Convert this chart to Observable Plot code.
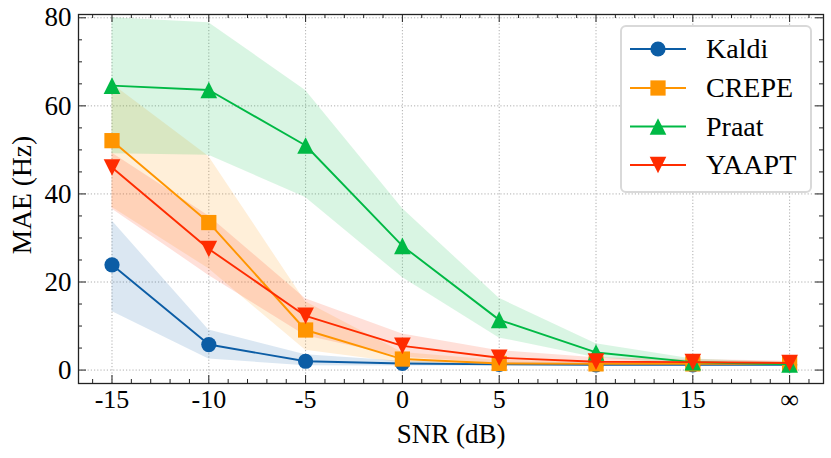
<!DOCTYPE html>
<html>
<head>
<meta charset="utf-8">
<script src="https://cdn.jsdelivr.net/npm/d3@7"></script>
<script src="https://cdn.jsdelivr.net/npm/@observablehq/plot@0.6"></script>
<style>
  html, body { margin: 0; padding: 0; background: #fff; }
  #wrap { position: relative; width: 831px; height: 458px; font-family: 'Liberation Serif'; }
  #legend { position: absolute; left: 620px; top: 25px; width: 188px; height: 164px;
            border: 2px solid #d9d9d9; border-radius: 6px; background: #fff; }
</style>
</head>
<body>
<div id="wrap"><div id="chart"></div><div id="legend"></div></div>
<script>
// ---- data ----
const snrLabels = ["-15", "-10", "-5", "0", "5", "10", "15", "∞"];
const snrValues = [-15, -10, -5, 0, 5, 10, 15, 20]; // ∞ placed one step after 15
const seriesNames = ["Kaldi", "CREPE", "Praat", "YAAPT"];
const seriesColors = ["#0C5DA5", "#FF9500", "#00B945", "#FF2C00"];

const kaldiMean = [23.9, 5.8, 2.0, 1.5, 1.3, 1.2, 1.2, 1.2];
const kaldiLow  = [13.3, 2.5, 1.0, 0.9, 0.9, 0.9, 0.9, 0.9];
const kaldiHigh = [33.9, 9.1, 3.5, 2.0, 1.7, 1.6, 1.6, 1.6];

const crepeMean = [52.1, 33.5, 9.1, 2.5, 1.5, 1.4, 1.4, 1.4];
const crepeLow  = [37.0, 23.0, 4.5, 1.6, 1.0, 1.0, 1.0, 1.0];
const crepeHigh = [65.0, 48.5, 15.5, 4.0, 2.2, 1.8, 1.8, 1.8];

const praatMean = [64.6, 63.6, 51.0, 28.2, 11.4, 4.0, 1.8, 1.3];
const praatLow  = [49.1, 48.8, 39.2, 21.0, 7.3, 2.8, 1.2, 1.0];
const praatHigh = [80.0, 78.9, 63.5, 36.7, 16.3, 6.0, 2.5, 1.7];

const yaaptMean = [46.0, 27.5, 12.3, 5.5, 2.8, 1.9, 1.8, 1.6];
const yaaptLow  = [36.6, 21.5, 7.8, 2.9, 1.5, 1.2, 1.2, 1.1];
const yaaptHigh = [49.3, 35.0, 16.2, 8.2, 4.4, 2.8, 2.4, 2.0];

const yTicks = [0, 20, 40, 60, 80];
const yMinorTicks = [5, 10, 15, 25, 30, 35, 45, 50, 55, 65, 70, 75];
const xMinorTicks = [-16,-14,-13,-12,-11,-9,-8,-7,-6,-4,-3,-2,-1,1,2,3,4,6,7,8,9,11,12,13,14,16,17,18,19,21];

// ---- build tables ----
const allMeans = [kaldiMean, crepeMean, praatMean, yaaptMean];
const allLows = [kaldiLow, crepeLow, praatLow, yaaptLow];
const allHighs = [kaldiHigh, crepeHigh, praatHigh, yaaptHigh];
const tables = seriesNames.map((name, s) => snrValues.map((x, i) => ({
  name, snr: x, mean: allMeans[s][i], lo: allLows[s][i], hi: allHighs[s][i]
})));

// bbox-centred triangles like matplotlib's ^ and v
const triUp = { draw(ctx, size) { const h = Math.sqrt(size) / 2; ctx.moveTo(0, -h); ctx.lineTo(h, h); ctx.lineTo(-h, h); ctx.closePath(); } };
const triDown = { draw(ctx, size) { const h = Math.sqrt(size) / 2; ctx.moveTo(0, h); ctx.lineTo(h, -h); ctx.lineTo(-h, -h); ctx.closePath(); } };
const seriesSymbols = ["circle", "square", triUp, triDown];
const seriesR = [7.6, 8.6, 9.4, 9.4];

const W = 831, H = 458, mL = 78, mR = 8, mT = 14, mB = 75;
const innerW = W - mL - mR, innerH = H - mT - mB;
const font = "Liberation Serif";
const labelOf = v => snrLabels[snrValues.indexOf(v)];

const marks = [
  Plot.gridX(snrValues, {stroke: "#9a9a9a", strokeOpacity: 1, strokeWidth: 0.8, strokeDasharray: "1.2,2"}),
  Plot.gridY(yTicks, {stroke: "#9a9a9a", strokeOpacity: 1, strokeWidth: 0.8, strokeDasharray: "1.2,2"}),
];
tables.forEach((t, s) => {
  marks.push(Plot.areaY(t, {x: "snr", y1: "lo", y2: "hi", fill: seriesColors[s], fillOpacity: 0.15}));
});
tables.forEach((t, s) => {
  marks.push(Plot.line(t, {x: "snr", y: "mean", stroke: seriesColors[s], strokeWidth: 1.9}));
  marks.push(Plot.dot(t, {x: "snr", y: "mean", symbol: () => seriesSymbols[s], fill: seriesColors[s], stroke: "none", r: seriesR[s]}));
});
// inward ticks on all four sides
const tk = {stroke: "#222", strokeWidth: 1};
marks.push(
  Plot.tickX(snrValues, {x: d => d, insetTop: innerH - 8, ...tk}),
  Plot.tickX(snrValues, {x: d => d, insetBottom: innerH - 8, ...tk}),
  Plot.tickX(xMinorTicks, {x: d => d, insetTop: innerH - 4, ...tk}),
  Plot.tickX(xMinorTicks, {x: d => d, insetBottom: innerH - 4, ...tk}),
  Plot.tickY(yTicks, {y: d => d, insetRight: innerW - 8, ...tk}),
  Plot.tickY(yTicks, {y: d => d, insetLeft: innerW - 8, ...tk}),
  Plot.tickY(yMinorTicks, {y: d => d, insetRight: innerW - 4, ...tk}),
  Plot.tickY(yMinorTicks, {y: d => d, insetLeft: innerW - 4, ...tk}),
  Plot.frame({stroke: "#222", strokeWidth: 1.3}),
  Plot.axisX(snrValues, {tickSize: 0, tickPadding: 6, tickFormat: labelOf, fontSize: 26, label: null, fill: "#000"}),
  Plot.axisY(yTicks, {tickSize: 0, tickPadding: 7, tickFormat: d => String(d), fontSize: 27, label: null, fill: "#000"}),
  Plot.text(["SNR (dB)"], {frameAnchor: "bottom", dy: 51, lineAnchor: "middle", textAnchor: "middle", fontSize: 27, fill: "#000"}),
  Plot.text(["MAE (Hz)"], {frameAnchor: "left", dx: -56, dy: -4, rotate: -90, lineAnchor: "middle", textAnchor: "middle", fontSize: 27.5, fill: "#000"})
);

const chart = Plot.plot({
  width: W, height: H,
  marginLeft: mL, marginRight: mR, marginTop: mT, marginBottom: mB,
  style: {fontFamily: font, fontSize: "27px", background: "#fff", color: "#000", overflow: "visible"},
  x: {domain: [-16.73, 21.75], axis: null},
  y: {domain: [-3.05, 80.75], axis: null},
  marks
});
document.getElementById("chart").appendChild(chart);
d3.select(chart).selectAll("text").attr("font-family", font).style("font-family", font);

// ---- legend (inside the axes, upper right) ----
const lg = d3.select("#legend").append("svg").attr("width", 188).attr("height", 164);
const rowY = [22, 61, 99.5, 138];
seriesNames.forEach((name, s) => {
  const g = lg.append("g").attr("transform", `translate(0,${rowY[s]})`);
  g.append("line").attr("x1", 8).attr("x2", 64).attr("stroke", seriesColors[s]).attr("stroke-width", 1.9);
  g.append("path").attr("transform", "translate(36,0)")
    .attr("d", d3.symbol(typeof seriesSymbols[s] === "string" ? (seriesSymbols[s] === "circle" ? d3.symbolCircle : d3.symbolSquare) : seriesSymbols[s], Math.PI * seriesR[s] * seriesR[s])())
    .attr("fill", seriesColors[s]);
  g.append("text").attr("x", 84).attr("y", 0).attr("dy", "0.33em")
    .attr("font-family", font).style("font-family", font)
    .attr("font-size", 28).attr("fill", "#000").text(name);
});
</script>
</body>
</html>
